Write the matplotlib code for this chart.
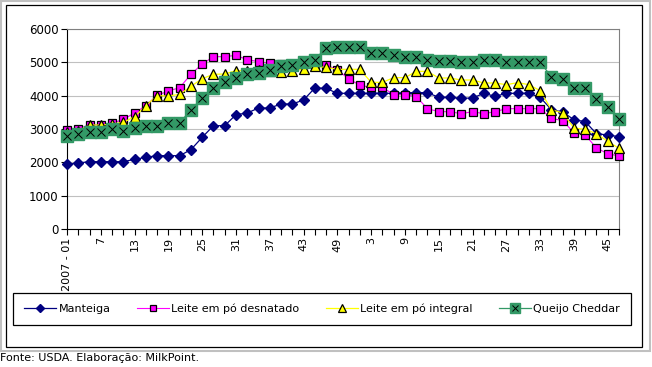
import matplotlib
matplotlib.use('Agg')
import matplotlib.pyplot as plt
from matplotlib.patches import Rectangle
from matplotlib.legend_handler import HandlerTuple
import numpy as np

# weekly prices, 2007 wk 1 .. 2008 wk 47 (every 2 weeks)
weeks_2007 = list(range(1, 52, 2))
weeks_2008 = list(range(1, 48, 2))

manteiga = [1940, 1980, 2020, 2020, 2020, 2020, 2090, 2150, 2200, 2200,
            2200, 2380, 2750, 3100, 3100, 3430, 3480, 3630, 3630, 3750,
            3750, 3870, 4230, 4220, 4070, 4070, 4070, 4070, 4070, 4070,
            4090, 4090, 4090, 3950, 3950, 3920, 3930, 4070, 3980, 4070,
            4070, 4070, 3950, 3580, 3510, 3280, 3220, 2860, 2820, 2770]

desnatado = [2980, 3000, 3130, 3130, 3170, 3290, 3480, 3700, 4010, 4140,
             4240, 4640, 4950, 5170, 5170, 5210, 5080, 5020, 4970, 4960,
             4960, 4950, 4940, 4930, 4770, 4510, 4310, 4250, 4250, 4030,
             4030, 3970, 3610, 3520, 3520, 3460, 3520, 3460, 3520, 3610,
             3610, 3610, 3610, 3320, 3250, 2890, 2820, 2430, 2260, 2190]

integral = [2900, 2950, 3120, 3120, 3150, 3200, 3370, 3700, 4000, 3990,
            4040, 4280, 4510, 4640, 4650, 4750, 4750, 4760, 4730, 4720,
            4750, 4800, 4880, 4850, 4790, 4790, 4790, 4400, 4400, 4540,
            4540, 4730, 4730, 4530, 4530, 4470, 4470, 4380, 4380, 4330,
            4390, 4330, 4150, 3580, 3480, 3030, 2990, 2860, 2630, 2420]

cheddar = [2790, 2860, 2910, 2910, 2990, 2950, 3030, 3080, 3080, 3190,
           3190, 3570, 3940, 4220, 4400, 4540, 4660, 4670, 4780, 4900,
           4910, 5010, 5080, 5440, 5470, 5470, 5470, 5280, 5280, 5220,
           5150, 5150, 5080, 5050, 5050, 5000, 5000, 5060, 5060, 5000,
           5000, 5000, 5000, 4570, 4500, 4230, 4230, 3900, 3650, 3290]

# tick labels every 3rd point
labels = []
for i, w in enumerate(weeks_2007 + weeks_2008):
    if i == 0:
        labels.append('2007 - 01')
    elif i % 3 == 0:
        labels.append(str(w))
    else:
        labels.append('')

W, H = 652, 367
fig = plt.figure(figsize=(W / 100, H / 100), dpi=100)
plt.rcParams['font.family'] = ['DejaVu Sans']

ax = fig.add_axes([67 / W, 1 - 229 / H, 552 / W, 200 / H])
x = np.arange(len(manteiga))

ax.plot(x, manteiga, color='#000080', lw=0.9, marker='D', ms=4.8,
        mfc='#000080', mec='#000080', label='Manteiga', zorder=3, clip_on=False)
ax.plot(x, desnatado, color='#FF00FF', lw=0.8, marker='s', ms=6,
        mfc='#FF00FF', mec='black', mew=0.9, label='Leite em pó desnatado',
        zorder=4, clip_on=False)
ax.plot(x, integral, color='#FFFF00', lw=0.9, marker='^', ms=6.8,
        mfc='#FFFF00', mec='black', mew=0.9, label='Leite em pó integral',
        zorder=5, clip_on=False)
ch1, = ax.plot(x, cheddar, color='#339966', lw=0.9, marker='s', ms=8.2,
               mfc='#339966', mec='#339966', zorder=6, clip_on=False)
ch2, = ax.plot(x, cheddar, ls='none', marker='x', ms=6, mec='black', mew=0.7,
               zorder=7, clip_on=False)

ax.set_xlim(0, len(x) - 1)
ax.set_ylim(0, 6000)
ax.set_yticks(range(0, 6001, 1000))
ax.set_xticks(x)
ax.set_xticklabels(labels, rotation=90, fontsize=8)
ax.tick_params(axis='y', labelsize=8.5, length=4, width=0.8, pad=2)
ax.tick_params(axis='x', length=4, width=0.8, pad=2)
ax.yaxis.grid(True, color='#C0C0C0', lw=0.8)
ax.set_axisbelow(True)
for s in ['top', 'right']:
    ax.spines[s].set_color('#808080')
    ax.spines[s].set_linewidth(0.8)
for s in ['left', 'bottom']:
    ax.spines[s].set_linewidth(0.8)

h, l = ax.get_legend_handles_labels()
h.append((ch1, ch2))
l.append('Queijo Cheddar')
leg = fig.legend(h, l, loc='center', ncol=4, mode='expand',
                 bbox_to_anchor=(13 / W, 1 - 326 / H, 618 / W, 34 / H),
                 fontsize=8, frameon=True, fancybox=False, framealpha=1,
                 edgecolor='black', borderpad=1.0, borderaxespad=0,
                 handlelength=2.9, handletextpad=0.2, numpoints=1,
                 markerscale=0.8,
                 handler_map={tuple: HandlerTuple(ndivide=1)})
leg.get_frame().set_linewidth(0.9)

# chart frames
fig.add_artist(Rectangle((0.5 / W, 1 - 350.7 / H), 649.5 / W, 350.2 / H,
                         transform=fig.transFigure, fill=False, ec='#C0C0C0', lw=1.5))
fig.add_artist(Rectangle((5.5 / W, 1 - 346.7 / H), 636.2 / W, 341.4 / H,
                         transform=fig.transFigure, fill=False, ec='black', lw=0.9))

fig.text(0.0, 1 - 358 / H, 'Fonte: USDA. Elaboração: MilkPoint.', fontsize=8,
         ha='left', va='center')

fig.savefig('out.png', dpi=100)
